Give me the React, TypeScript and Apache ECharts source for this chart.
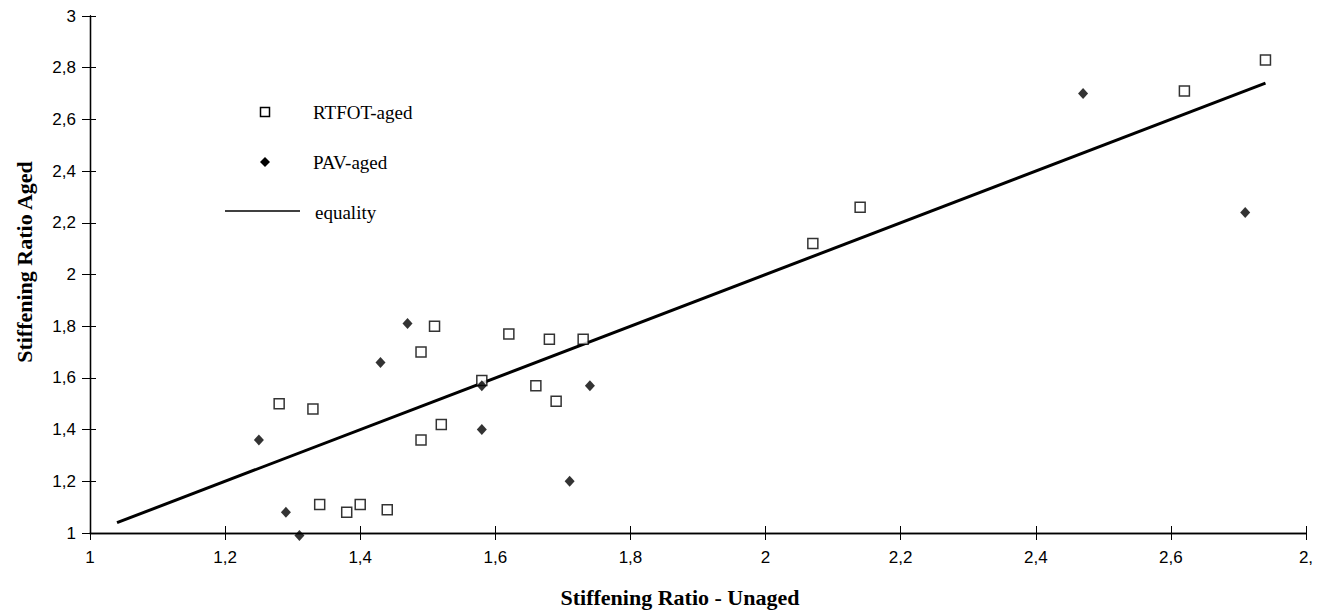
import React, { useEffect, useRef } from "react";
import * as echarts from "echarts";

// ---- data ----
const xTickValues = [1, 1.2, 1.4, 1.6, 1.8, 2, 2.2, 2.4, 2.6, 2.8];
const xTickLabels = ["1", "1,2", "1,4", "1,6", "1,8", "2", "2,2", "2,4", "2,6", "2,"];
const yTickValues = [1, 1.2, 1.4, 1.6, 1.8, 2, 2.2, 2.4, 2.6, 2.8, 3];
const yTickLabels = ["1", "1,2", "1,4", "1,6", "1,8", "2", "2,2", "2,4", "2,6", "2,8", "3"];

const rtfotX = [1.28, 1.33, 1.34, 1.38, 1.4, 1.44, 1.49, 1.49, 1.51, 1.52, 1.58, 1.62, 1.66, 1.68, 1.69, 1.73, 2.07, 2.14, 2.62, 2.74];
const rtfotY = [1.5, 1.48, 1.11, 1.08, 1.11, 1.09, 1.36, 1.7, 1.8, 1.42, 1.59, 1.77, 1.57, 1.75, 1.51, 1.75, 2.12, 2.26, 2.71, 2.83];

const pavX = [1.25, 1.29, 1.31, 1.43, 1.47, 1.58, 1.58, 1.71, 1.74, 2.47, 2.71];
const pavY = [1.36, 1.08, 0.99, 1.66, 1.81, 1.57, 1.4, 1.2, 1.57, 2.7, 2.24];

const equalityX = [1.04, 2.74];
const equalityY = [1.04, 2.74];

const seriesNames = ["RTFOT-aged", "PAV-aged", "equality"];
const xTitle = "Stiffening Ratio - Unaged";
const yTitle = "Stiffening Ratio Aged";

const fmt = (values: number[], labels: string[]) => (v: number) => {
  const i = values.findIndex((t) => Math.abs(t - v) < 1e-6);
  return i >= 0 ? labels[i] : "";
};

export default function App() {
  const ref = useRef<HTMLDivElement>(null);
  useEffect(() => {
    if (!ref.current) return;
    const chart = echarts.init(ref.current, null, { renderer: "svg" });
    const tickLabelStyle = {
      fontFamily: "Liberation Sans, Arial, sans-serif",
      fontSize: 17,
      color: "#000",
    };
    const baseX = {
      type: "value",
      min: 1,
      max: 2.8,
      interval: 0.2,
      axisLine: { show: true, onZero: false, lineStyle: { color: "#000", width: 1.3 } },
      splitLine: { show: false },
    };
    const baseY = {
      type: "value",
      min: 1,
      max: 3,
      interval: 0.2,
      axisLine: { show: true, onZero: false, lineStyle: { color: "#000", width: 1.3 } },
      splitLine: { show: false },
    };
    const legendFont = "19px 'Liberation Serif', serif";
    const titleFont = "bold 22px 'Liberation Serif', serif";
    chart.setOption({
      animation: false,
      backgroundColor: "#fff",
      grid: { left: 90, right: 16, top: 16, bottom: 80, containLabel: false },
      xAxis: [
        {
          ...baseX,
          position: "bottom",
          axisTick: { show: true, inside: false, length: 7, lineStyle: { color: "#000", width: 1 } },
          axisLabel: { ...tickLabelStyle, margin: 16, formatter: fmt(xTickValues, xTickLabels) },
        },
        {
          ...baseX,
          position: "bottom",
          axisTick: { show: true, inside: true, length: 7, lineStyle: { color: "#000", width: 1 } },
          axisLabel: { show: false },
        },
      ],
      yAxis: [
        {
          ...baseY,
          position: "left",
          axisTick: { show: true, inside: false, length: 8, lineStyle: { color: "#000", width: 1 } },
          axisLabel: { ...tickLabelStyle, margin: 14, formatter: fmt(yTickValues, yTickLabels) },
        },
        {
          ...baseY,
          position: "left",
          axisTick: { show: true, inside: true, length: 6, lineStyle: { color: "#000", width: 1 } },
          axisLabel: { show: false },
        },
      ],
      series: [
        {
          name: seriesNames[2],
          type: "line",
          data: equalityX.map((x, i) => [x, equalityY[i]]),
          symbol: "none",
          lineStyle: { color: "#000", width: 3 },
          z: 2,
        },
        {
          name: seriesNames[0],
          type: "scatter",
          data: rtfotX.map((x, i) => [x, rtfotY[i]]),
          symbol: "rect",
          symbolSize: 10,
          clip: false,
          itemStyle: { color: "#fff", borderColor: "#000", borderWidth: 1.5 },
          z: 3,
        },
        {
          name: seriesNames[1],
          type: "scatter",
          data: pavX.map((x, i) => [x, pavY[i]]),
          symbol: "diamond",
          symbolSize: [10, 11],
          clip: false,
          itemStyle: { color: "#000" },
          z: 4,
        },
      ],
      graphic: [
        { type: "rect", shape: { x: 260.5, y: 107.5, width: 9, height: 9 }, style: { fill: "#fff", stroke: "#000", lineWidth: 1.5 } },
        { type: "text", x: 313, y: 112, style: { text: seriesNames[0], font: legendFont, fill: "#000", verticalAlign: "middle" } },
        { type: "polygon", shape: { points: [[265, 157], [270, 162], [265, 167], [260, 162]] }, style: { fill: "#000" } },
        { type: "text", x: 313, y: 162, style: { text: seriesNames[1], font: legendFont, fill: "#000", verticalAlign: "middle" } },
        { type: "line", shape: { x1: 225, y1: 211, x2: 300, y2: 211 }, style: { stroke: "#000", lineWidth: 1.5 } },
        { type: "text", x: 315, y: 212, style: { text: seriesNames[2], font: legendFont, fill: "#000", verticalAlign: "middle" } },
        { type: "text", x: 680, y: 597, style: { text: xTitle, font: titleFont, fill: "#000", align: "center", verticalAlign: "middle" } },
        { type: "text", x: 24, y: 262, rotation: Math.PI / 2, style: { text: yTitle, font: titleFont, fill: "#000", align: "center", verticalAlign: "middle" } },
      ],
    });
    return () => chart.dispose();
  }, []);
  return <div ref={ref} style={{ position: "fixed", left: 0, top: 0, width: 1322, height: 613, background: "#fff" }} />;
}
